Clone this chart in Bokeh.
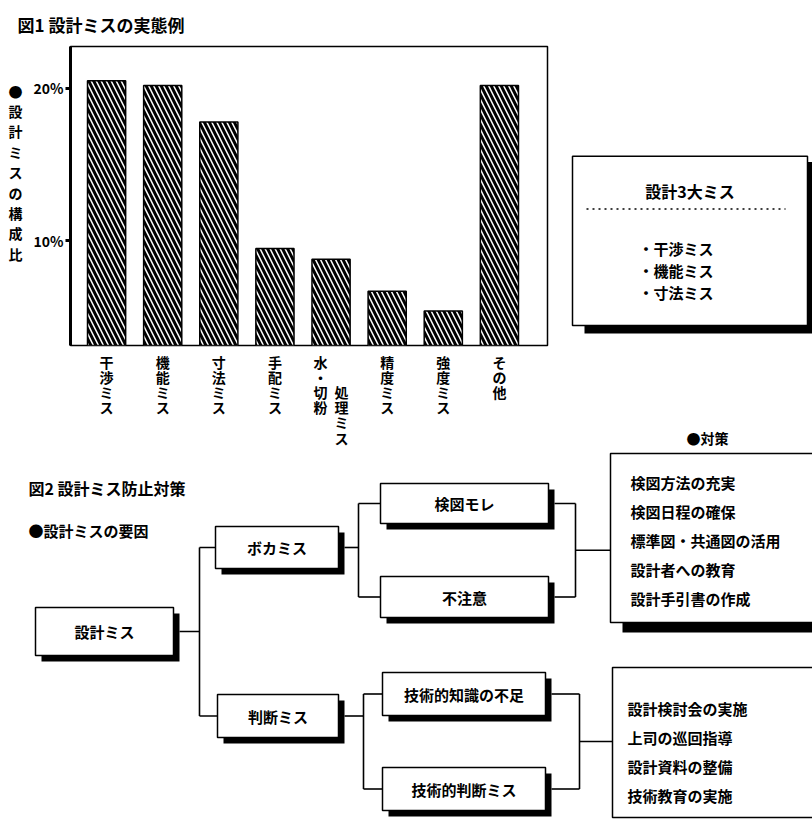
from bokeh.plotting import figure
from bokeh.models import Range1d, FixedTicker, LinearAxis, ColumnDataSource
from bokeh.layouts import column, row
from bokeh.embed import file_html
from bokeh.resources import INLINE
from bokeh.core.properties import value

FONT = "Noto Sans CJK JP"

# ---------------- data: figure 1 ----------------
title1 = "図1 設計ミスの実態例"
categories = ["干渉ミス", "機能ミス", "寸法ミス", "手配ミス", "水・切粉処理ミス", "精度ミス", "強度ミス", "その他"]
shares = [20.5, 20.2, 17.8, 9.5, 8.8, 6.7, 5.4, 20.2]
label_columns = [["干渉ミス"], ["機能ミス"], ["寸法ミス"], ["手配ミス"], ["水・切粉", "処理ミス"],
                 ["精度ミス"], ["強度ミス"], ["その他"]]
y_ticks = [10, 20]
y_tick_labels = ["10%", "20%"]
y_axis_title = "●設計ミスの構成比"
y_axis_title_at = 14.5   # value level where the vertical axis title is centred

box_title = "設計3大ミス"
top3 = ["干渉ミス", "機能ミス", "寸法ミス"]

# ---------------- data: figure 2 ----------------
title2 = "図2 設計ミス防止対策"
causes_heading = "●設計ミスの要因"
measures_heading = "●対策"
root = "設計ミス"
level1 = ["ボカミス", "判断ミス"]
level2 = [["検図モレ", "不注意"], ["技術的知識の不足", "技術的判断ミス"]]
measures = [["検図方法の充実", "検図日程の確保", "標準図・共通図の活用", "設計者への教育", "設計手引書の作成"],
            ["設計検討会の実施", "上司の巡回指導", "設計資料の整備", "技術教育の実施"]]

# ---------------- layout geometry (page pixels) ----------------
TOP_H = 450
root_box = (35, 173, 607, 655)
level1_boxes = [(215, 338, 526, 568), (217, 338, 694, 737)]
level2_boxes = [[(380, 548, 483, 523), (380, 548, 576, 617)],
                [(382, 545, 672, 715), (382, 545, 767, 810)]]
measure_boxes = [(610, 818, 453, 622), (612, 818, 667, 817)]
measure_text_x = [630, 627]
measure_text_y0 = [482, 708]
measure_pitch = 29
root_join_x = 199
l1_join_x = [358, 363]
l2_join_x = [575, 579]
SH = 6


def style_blank(p):
    p.xaxis.visible = False
    p.yaxis.visible = False
    p.xgrid.visible = False
    p.ygrid.visible = False
    p.outline_line_color = None
    p.background_fill_color = "white"
    p.border_fill_color = "white"


def style_label_axis(ax, size="14px", standoff=2):
    ax.axis_line_color = None
    ax.major_tick_line_color = None
    ax.minor_tick_line_color = None
    ax.major_tick_in = 0
    ax.major_tick_out = 0
    ax.major_label_standoff = standoff
    ax.major_label_text_font = FONT
    ax.major_label_text_font_style = "bold"
    ax.major_label_text_font_size = size
    ax.major_label_text_color = "black"


def vertical(col_list):
    """Stack one or two columns of characters as vertical (tategaki) text."""
    if len(col_list) == 1:
        return "\n".join(col_list[0])
    left, right = col_list
    shift = len(left) - 2
    n = max(len(left), len(right) + shift)
    lines = []
    for r in range(n):
        a = left[r] if r < len(left) else "\u3000"
        b = right[r - shift] if 0 <= r - shift < len(right) else "\u3000"
        lines.append(a + "\u2002" + b)
    return "\n".join(lines)


# ================= Figure 1: bar chart =================
p1 = figure(width=564, height=TOP_H, x_range=Range1d(0.357, 8.857), y_range=Range1d(3.14, 22.75),
            output_backend="svg", toolbar_location=None,
            min_border_left=70, min_border_right=17, min_border_top=45, min_border_bottom=105)
p1.xgrid.visible = False
p1.ygrid.visible = False
p1.outline_line_color = "black"
p1.outline_line_width = 1.5
p1.background_fill_color = "white"
p1.border_fill_color = "white"

p1.title.text = title1
p1.title.align = "left"
p1.title.offset = -53
p1.title.standoff = 19
p1.title.text_font = FONT
p1.title.text_font_style = "bold"
p1.title.text_font_size = "17px"
p1.title.text_color = "black"

yax = p1.yaxis[0]
yax.ticker = FixedTicker(ticks=y_ticks, minor_ticks=[])
yax.major_label_overrides = {t: s for t, s in zip(y_ticks, y_tick_labels)}
yax.axis_line_width = 3
yax.major_tick_in = 0
yax.major_tick_out = 5
yax.major_tick_line_width = 3
yax.minor_tick_line_color = None
yax.major_label_standoff = 2
yax.major_label_text_font = FONT
yax.major_label_text_font_style = "bold"
yax.major_label_text_font_size = "14px"
yax.major_label_text_color = "black"

# vertical axis title, as an extra label-only axis further left
ytitle_axis = LinearAxis(ticker=FixedTicker(ticks=[y_axis_title_at], minor_ticks=[]),
                         major_label_overrides={y_axis_title_at: "\n".join(y_axis_title)})
style_label_axis(ytitle_axis, "14px", 8)
ytitle_axis.major_label_text_line_height = 1.02
ytitle_axis.major_label_text_align = "center"
p1.add_layout(ytitle_axis, "left")

xs = list(range(1, len(categories) + 1))
xax = p1.xaxis[0]
xax.ticker = FixedTicker(ticks=xs, minor_ticks=[])
xax.major_label_overrides = {x: vertical(c) for x, c in zip(xs, label_columns)}
style_label_axis(xax, "14px", 6)
xax.major_label_text_line_height = 0.76

src = ColumnDataSource(dict(x=xs, top=shares, cat=categories))
p1.vbar(x="x", top="top", bottom=0, width=0.68, source=src,
        fill_color="white", line_color="black", line_width=1.5,
        hatch_pattern="\\", hatch_color="black", hatch_weight=3, hatch_scale=10)

# ================= right box: 設計3大ミス =================
p2 = figure(width=248, height=TOP_H, x_range=Range1d(564, 812), y_range=Range1d(345, 45),
            output_backend="svg", toolbar_location=None,
            min_border_left=0, min_border_right=0, min_border_top=45, min_border_bottom=105)
style_blank(p2)
bx = (572, 807, 155, 325)
p2.quad(left=[bx[0] + 12], right=[bx[1] + 6], top=[bx[2] + 6], bottom=[bx[3] + 8],
        fill_color="black", line_color=None)
p2.quad(left=[bx[0]], right=[bx[1]], top=[bx[2]], bottom=[bx[3]],
        fill_color="white", line_color="black", line_width=1.5)
p2.text(x=[(bx[0] + bx[1]) / 2], y=[190], text=[box_title], text_font=value(FONT),
        text_font_style="bold", text_font_size="16px", text_align="center", text_baseline="middle",
        text_color="black")
p2.line(x=[bx[0] + 14, bx[1] - 22], y=[208, 208], line_color="black", line_width=1.5, line_dash="2 4")
p2.text(x=[638] * len(top3), y=[248 + 22 * i for i in range(len(top3))], text=["・" + t for t in top3],
        text_font=value(FONT), text_font_style="bold", text_font_size="15px",
        text_align="left", text_baseline="middle", text_color="black")
# "●対策" heading sits below this frame: shown as a label-only x axis
hax = p2.xaxis[0]
hax.visible = True
hax.ticker = FixedTicker(ticks=[707], minor_ticks=[])
hax.major_label_overrides = {707: measures_heading}
style_label_axis(hax, "14px", 82)

# ================= Figure 2: flow diagram =================
p3 = figure(width=812, height=837 - TOP_H, x_range=Range1d(0, 812), y_range=Range1d(837, TOP_H),
            output_backend="svg", toolbar_location=None, min_border=0)
style_blank(p3)

p3.text(x=[28], y=[487], text=[title2], text_font=value(FONT), text_font_style="bold",
        text_font_size="16px", text_align="left", text_baseline="middle", text_color="black")
p3.text(x=[28], y=[530], text=[causes_heading], text_font=value(FONT), text_font_style="bold",
        text_font_size="15px", text_align="left", text_baseline="middle", text_color="black")


def mid(b):
    return (b[2] + b[3]) / 2


boxes = [root_box] + level1_boxes + [b for pair in level2_boxes for b in pair]
labels = [root] + level1 + [t for pair in level2 for t in pair]
p3.quad(left=[b[0] + SH for b in boxes], right=[b[1] + SH for b in boxes],
        top=[b[2] + SH for b in boxes], bottom=[b[3] + SH for b in boxes],
        fill_color="black", line_color=None)
p3.quad(left=[b[0] for b in boxes], right=[b[1] for b in boxes],
        top=[b[2] for b in boxes], bottom=[b[3] for b in boxes],
        fill_color="white", line_color="black", line_width=1.5)
p3.text(x=[(b[0] + b[1]) / 2 for b in boxes], y=[mid(b) for b in boxes], text=labels,
        text_font=value(FONT), text_font_style="bold", text_font_size="15px",
        text_align="center", text_baseline="middle", text_color="black")

# measure boxes
m0 = measure_boxes[0]
p3.quad(left=[m0[0] + 12], right=[m0[1]], top=[m0[2] + 10], bottom=[m0[3] + 10],
        fill_color="black", line_color=None)
p3.quad(left=[b[0] for b in measure_boxes], right=[b[1] for b in measure_boxes],
        top=[b[2] for b in measure_boxes], bottom=[b[3] for b in measure_boxes],
        fill_color="white", line_color="black", line_width=1.5)
for k, items in enumerate(measures):
    p3.text(x=[measure_text_x[k]] * len(items),
            y=[measure_text_y0[k] + measure_pitch * i for i in range(len(items))],
            text=items, text_font=value(FONT), text_font_style="bold", text_font_size="15px",
            text_align="left", text_baseline="middle", text_color="black")

# connectors
cx, cy = [], []


def bracket(parent_right, parent_y, join_x, kids):
    cx.append([parent_right, join_x]); cy.append([parent_y, parent_y])
    cx.append([join_x, join_x]); cy.append([mid(kids[0]), mid(kids[1])])
    for kb in kids:
        cx.append([join_x, kb[0]]); cy.append([mid(kb), mid(kb)])


bracket(root_box[1] + SH, mid(root_box), root_join_x, level1_boxes)
for k in range(2):
    bracket(level1_boxes[k][1] + SH, mid(level1_boxes[k]), l1_join_x[k], level2_boxes[k])
    kids = level2_boxes[k]
    jx = l2_join_x[k]
    for kb in kids:
        cx.append([kb[1] + SH, jx]); cy.append([mid(kb), mid(kb)])
    cx.append([jx, jx]); cy.append([mid(kids[0]), mid(kids[1])])
    ym = (mid(kids[0]) + mid(kids[1])) / 2
    cx.append([jx, measure_boxes[k][0]]); cy.append([ym, ym])
p3.multi_line(xs=cx, ys=cy, line_color="black", line_width=1.6)

layout = column(row(p1, p2, spacing=0), p3, spacing=0)
open("out.html", "w").write(file_html(layout, INLINE))
